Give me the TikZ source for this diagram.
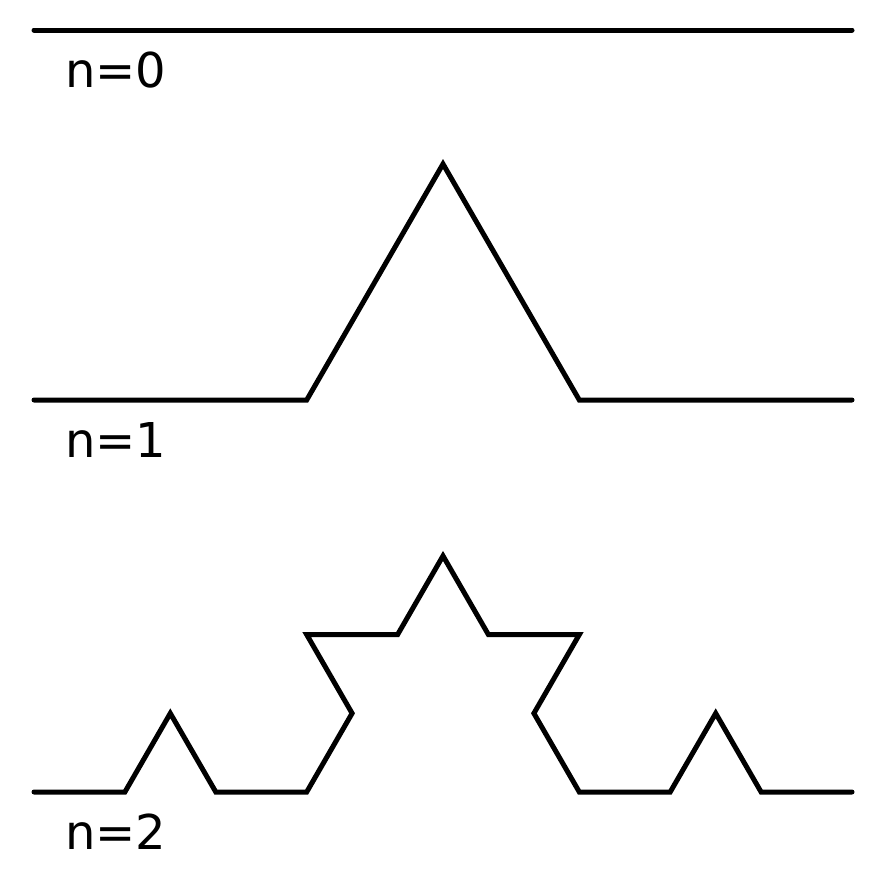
\documentclass[tikz,border=0pt]{standalone}
\usepackage{fontspec}
\setmainfont{DejaVu Sans}
\begin{document}
\begin{tikzpicture}[x=1pt,y=-1pt,
  curve/.style={line width=5pt,line cap=round,line join=miter,black},
  lbl/.style={anchor=base west,inner sep=0pt,font=\fontsize{48}{48}\selectfont}]
\useasboundingbox (0,0) rectangle (896,871);
% n=0
\coordinate (a0) at (34,30);
\coordinate (b0) at (852,30);
\draw[curve] (a0) -- (b0);
\node[lbl] (l0) at (65,87) {n=0};
% n=1
\coordinate (p1) at (34,400);
\coordinate (p2) at (306.7,400);
\coordinate (p3) at (443,164);
\coordinate (p4) at (579.3,400);
\coordinate (p5) at (852,400);
\draw[curve] (p1) -- (p2) -- (p3) -- (p4) -- (p5);
\node[lbl] (l1) at (65,457) {n=1};
% n=2
\coordinate (q1) at (34,792);
\coordinate (q2) at (124.9,792);
\coordinate (q3) at (170.3,713.3);
\coordinate (q4) at (215.8,792);
\coordinate (q5) at (306.7,792);
\coordinate (q6) at (352.1,713.3);
\coordinate (q7) at (306.7,634.6);
\coordinate (q8) at (397.6,634.6);
\coordinate (q9) at (443,555.9);
\coordinate (q10) at (488.4,634.6);
\coordinate (q11) at (579.3,634.6);
\coordinate (q12) at (533.9,713.3);
\coordinate (q13) at (579.3,792);
\coordinate (q14) at (670.2,792);
\coordinate (q15) at (715.7,713.3);
\coordinate (q16) at (761.1,792);
\coordinate (q17) at (852,792);
\draw[curve] (q1) -- (q2) -- (q3) -- (q4) -- (q5) -- (q6) -- (q7) -- (q8) -- (q9) -- (q10) -- (q11) -- (q12) -- (q13) -- (q14) -- (q15) -- (q16) -- (q17);
\node[lbl] (l2) at (65,849) {n=2};
\end{tikzpicture}
\end{document}
